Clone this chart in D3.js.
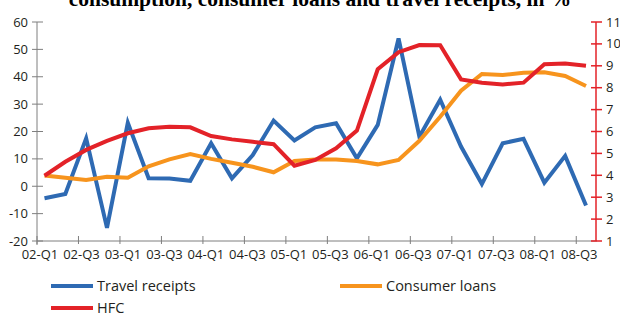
<!DOCTYPE html>
<html>
<head>
<meta charset="utf-8">
<script src="https://cdn.jsdelivr.net/npm/d3@7"></script>
<style>
  body { margin: 0; background: #fff; }
  svg { display: block; }
  text { font-family: "Open Sans", sans-serif; }
</style>
</head>
<body>
<div id="chart"></div>
<script>
// quarters 02-Q1 .. 08-Q3
const quarters = [
  "02-Q1","02-Q2","02-Q3","02-Q4","03-Q1","03-Q2","03-Q3","03-Q4",
  "04-Q1","04-Q2","04-Q3","04-Q4","05-Q1","05-Q2","05-Q3","05-Q4",
  "06-Q1","06-Q2","06-Q3","06-Q4","07-Q1","07-Q2","07-Q3","07-Q4",
  "08-Q1","08-Q2","08-Q3"
];
// left axis, %
const travelReceipts = [
  -4.4, -2.8, 17.5, -15.2, 23.2, 2.9, 2.8, 2.0,
  15.7, 2.9, 11.4, 24.0, 16.7, 21.5, 23.0, 10.2,
  22.4, 54.0, 18.1, 31.6, 14.5, 0.8, 15.7, 17.3,
  1.3, 11.1, -7.0
];
const consumerLoans = [
  3.9, 3.1, 2.3, 3.5, 3.1, 7.3, 9.8, 11.8,
  10.0, 8.6, 7.1, 5.1, 9.2, 9.8, 9.8, 9.2,
  8.0, 9.6, 16.6, 25.4, 34.9, 41.0, 40.6, 41.5,
  41.6, 40.3, 36.6
];
// right axis, %
const hfc = [
  3.98, 4.62, 5.16, 5.57, 5.92, 6.15, 6.22, 6.19,
  5.79, 5.64, 5.53, 5.42, 4.44, 4.70, 5.23, 6.04,
  8.84, 9.62, 9.95, 9.94, 8.38, 8.23, 8.15, 8.23,
  9.07, 9.11, 9.00
];
const leftTicks = [-20, -10, 0, 10, 20, 30, 40, 50, 60];
const rightTicks = [1, 2, 3, 4, 5, 6, 7, 8, 9, 10, 11];
const tickQuarters = quarters.filter((q, i) => i % 2 === 0);

const width = 620;
const height = 316;
const blue = "#2e6ab3", orange = "#f7941d", red = "#e32228", grey = "#7f7f7f";

const svg = d3.select("#chart").append("svg")
  .attr("width", width)
  .attr("height", height);

// scales
const xBand = d3.scaleBand().domain(quarters).range([37, 597]);
const x = d3.scalePoint().domain(quarters).range([44.5, 586]);
const yL = d3.scaleLinear().domain([-20, 60]).range([241, 22]);
const yR = d3.scaleLinear().domain([1, 11]).range([241, 22]);

// title (cut at the top)
svg.append("text")
  .attr("x", 320).attr("y", 6)
  .attr("text-anchor", "middle")
  .style("font-family", "'Liberation Serif', serif")
  .style("font-weight", "bold")
  .style("font-size", "21.5px")
  .text("consumption, consumer loans and travel receipts, in %");

// left axis
const gL = svg.append("g");
gL.append("line")
  .attr("x1", 37).attr("x2", 37)
  .attr("y1", yL(60)).attr("y2", yL(-20) + 4)
  .attr("stroke", grey);
gL.selectAll(".tk").data(leftTicks).join("line")
  .attr("x1", 32).attr("x2", 43)
  .attr("y1", d => yL(d)).attr("y2", d => yL(d))
  .attr("stroke", grey);
gL.selectAll("text").data(leftTicks).join("text")
  .attr("x", 28).attr("y", d => yL(d))
  .attr("dy", "0.35em")
  .attr("text-anchor", "end")
  .style("font-size", "13px")
  .attr("fill", "#231f20")
  .text(d => d);

// x axis
const gX = svg.append("g");
gX.append("line")
  .attr("x1", 37).attr("x2", 597)
  .attr("y1", yL(-20)).attr("y2", yL(-20))
  .attr("stroke", grey);
gX.selectAll("line.tk").data(tickQuarters).join("line")
  .attr("class", "tk")
  .attr("x1", d => xBand(d)).attr("x2", d => xBand(d))
  .attr("y1", yL(-20) - 5).attr("y2", yL(-20) + 3)
  .attr("stroke", grey);
gX.selectAll("text").data(tickQuarters).join("text")
  .attr("x", d => xBand(d) + 3)
  .attr("y", 259)
  .attr("text-anchor", "middle")
  .style("font-size", "13px")
  .attr("fill", "#231f20")
  .text(d => d);

// right axis (red)
const gR = svg.append("g");
gR.append("line")
  .attr("x1", 596).attr("x2", 596)
  .attr("y1", yR(11)).attr("y2", yR(1))
  .attr("stroke", red).attr("stroke-width", 1.5);
gR.selectAll("line.tk").data(rightTicks).join("line")
  .attr("class", "tk")
  .attr("x1", 591).attr("x2", 602)
  .attr("y1", d => yR(d)).attr("y2", d => yR(d))
  .attr("stroke", red).attr("stroke-width", 1.5);
gR.selectAll("text").data(rightTicks).join("text")
  .attr("x", 606).attr("y", d => yR(d))
  .attr("dy", "0.35em")
  .style("font-size", "13px")
  .attr("fill", "#231f20")
  .text(d => d);

// series
const lineL = d3.line().x((d, i) => x(quarters[i])).y(d => yL(d));
const lineR = d3.line().x((d, i) => x(quarters[i])).y(d => yR(d));

svg.append("path").datum(travelReceipts)
  .attr("d", lineL).attr("fill", "none")
  .attr("stroke", blue).attr("stroke-width", 4);
svg.append("path").datum(consumerLoans)
  .attr("d", lineL).attr("fill", "none")
  .attr("stroke", orange).attr("stroke-width", 4);
svg.append("path").datum(hfc)
  .attr("d", lineR).attr("fill", "none")
  .attr("stroke", red).attr("stroke-width", 4);

// legend
const legend = [
  { name: "Travel receipts", color: blue, x: 51, y: 286 },
  { name: "Consumer loans", color: orange, x: 340, y: 286 },
  { name: "HFC", color: red, x: 51, y: 308 }
];
const lg = svg.append("g").selectAll("g").data(legend).join("g")
  .attr("transform", d => `translate(${d.x},${d.y})`);
lg.append("line")
  .attr("x1", 0).attr("x2", 42)
  .attr("stroke", d => d.color).attr("stroke-width", 4);
lg.append("text")
  .attr("x", 46).attr("dy", "0.35em")
  .style("font-size", "14.5px")
  .attr("fill", "#231f20")
  .text(d => d.name);
</script>
</body>
</html>
